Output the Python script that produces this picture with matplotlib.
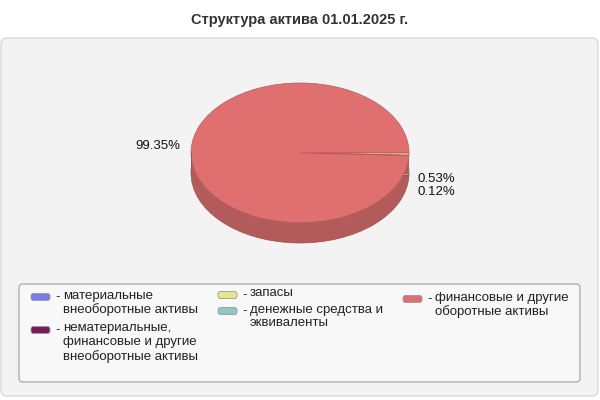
import matplotlib
matplotlib.use("Agg")
import matplotlib.pyplot as plt
from matplotlib.patches import FancyBboxPatch, Rectangle

plt.rcParams['font.family'] = ['Liberation Sans', 'DejaVu Sans']

# данные
title = "Структура актива 01.01.2025 г."
labels = [
    "материальные\nвнеоборотные активы",
    "нематериальные,\nфинансовые и другие\nвнеоборотные активы",
    "запасы",
    "денежные средства и\nэквиваленты",
    "финансовые и другие\nоборотные активы",
]
values = [0.0, 0.0, 0.53, 0.12, 99.35]
colors = ["#7b7bea", "#7a1a58", "#e6e68c", "#8cc8c8", "#e07070"]
side_colors = ["#5c5cb0", "#5a1242", "#adad69", "#699696", "#b35a5a"]

fig = plt.figure(figsize=(6, 4), dpi=100)
fig.patch.set_facecolor("white")

# фон и подписи в пикселях
bg = fig.add_axes([0, 0, 1, 1])
bg.set_xlim(0, 600)
bg.set_ylim(400, 0)
bg.axis("off")

bg.add_patch(FancyBboxPatch((1, 38), 597, 358,
                            boxstyle="round,pad=0,rounding_size=6",
                            fc="#f3f3f3", ec="#d9d9d9", lw=1))
bg.text(300, 20, title, ha="center", va="center", fontsize=10.5,
        fontweight="bold", color="#333333")

# 3D круговая диаграмма
depth = 0.29
pax = fig.add_axes([191 / 600, (400 - 243) / 400, 218 / 600, 160 / 400])
pax.patch.set_alpha(0)
pax.pie(values, colors=side_colors, startangle=0, counterclock=False,
        center=(0, -depth), radius=1,
        wedgeprops=dict(edgecolor="#a05050", linewidth=0.5))
pax.add_patch(Rectangle((-1, -depth), 2, depth, fc=side_colors[-1], ec="none"))
pax.plot([-1, -1], [-depth, 0], color="#a05050", lw=0.6)
pax.plot([1, 1], [-depth, 0], color=side_colors[2], lw=0.8)
pax.pie(values, colors=colors, startangle=0, counterclock=False,
        center=(0, 0), radius=1,
        wedgeprops=dict(edgecolor="#b45a5a", linewidth=0.5))
pax.set_aspect("auto")
pax.set_xlim(-1, 1)
pax.set_ylim(-1 - depth, 1)
pax.axis("off")

# подписи долей
bg.text(180, 146, f"{values[4]:.2f}%", ha="right", va="center", fontsize=9.5, color="#111111")
bg.text(418, 179, f"{values[2]:.2f}%", ha="left", va="center", fontsize=9.5, color="#111111")
bg.text(418, 192, f"{values[3]:.2f}%", ha="left", va="center", fontsize=9.5, color="#111111")

# легенда
bg.add_patch(FancyBboxPatch((19, 284), 561, 98,
                            boxstyle="round,pad=0,rounding_size=4",
                            fc="#f8f8f8", ec="#b0b0b0", lw=1))
slots = [(31, 297), (31, 330), (218, 295), (218, 311), (403, 299)]
for (x, y), lab, c in zip(slots, labels, colors):
    bg.add_patch(FancyBboxPatch((x, y - 3.5), 19, 7,
                                boxstyle="round,pad=0,rounding_size=2.5",
                                fc=c, ec="#999999", lw=0.6))
    bg.text(x + 24, y, "-", ha="left", va="center", fontsize=9.5, color="#222222")
    bg.text(x + 32, y - 7.5, lab, ha="left", va="top", fontsize=9.5,
            color="#222222", linespacing=1.2)

fig.savefig("out.png", dpi=100)
